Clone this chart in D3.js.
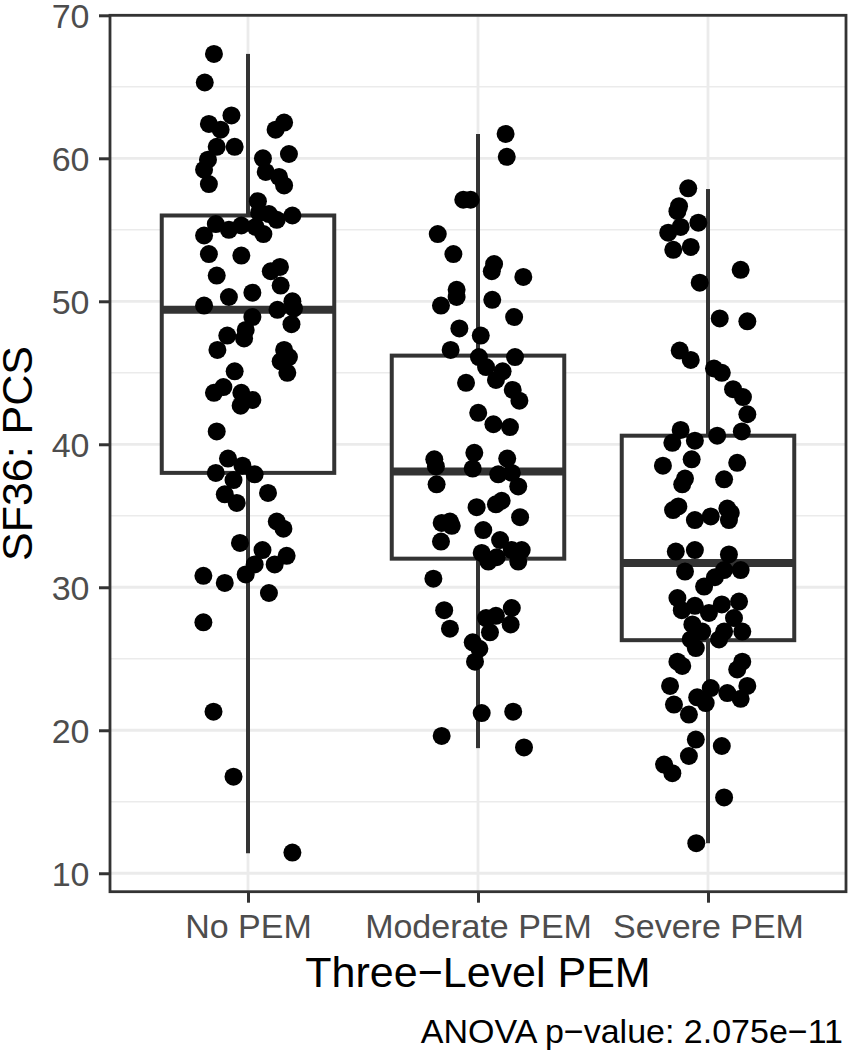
<!DOCTYPE html>
<html>
<head>
<meta charset="utf-8">
<script src="https://cdn.jsdelivr.net/npm/d3@7"></script>
<style>
  html, body { margin: 0; padding: 0; background: #ffffff; }
  svg { display: block; }
  text { font-family: "Liberation Sans", Arial, Helvetica, sans-serif; }
</style>
</head>
<body>
<svg id="chart" width="850" height="1050"></svg>
<script>
// ---------- data ----------
const categories = ["No PEM", "Moderate PEM", "Severe PEM"];

// box statistics
const boxLower   = [38.0, 32.0, 26.3];
const boxMedian  = [49.4, 38.1, 31.7];
const boxUpper   = [56.0, 46.2, 40.6];
const whiskerLow = [11.4, 18.75, 12.1];
const whiskerHigh= [67.3, 61.7, 57.85];

// jittered observations: values and horizontal jitter (fraction of category spacing)
const noPemValues = [67.3,65.3,63.0,62.4,62.0,60.8,60.8,59.9,59.2,58.2,62.5,62.0,60.3,60.0,59.05,58.7,58.1,57.0,56.2,56.1,
  55.7,56.0,54.7,55.4,54.6,55.0,55.3,55.2,53.3,53.2,51.8,52.1,52.4,51.1,50.6,50.3,49.7,49.4,50.0,49.5,
  48.4,48.9,48.0,47.6,47.4,46.6,46.6,46.1,45.8,45.0,45.1,43.6,44.0,43.6,43.1,42.7,40.9,39.0,38.0,38.5,
  37.5,37.9,36.5,35.9,36.6,34.6,34.1,33.1,32.6,32.2,31.6,31.6,30.9,30.8,30.3,29.6,27.55,21.3,16.75,11.45];
const noPemJitter = [-0.148,-0.188,-0.072,-0.170,-0.119,-0.136,-0.058,-0.174,-0.191,-0.170,0.157,0.120,0.178,0.065,0.077,0.135,0.157,0.043,0.048,0.091,
  0.125,0.193,0.067,-0.140,-0.191,-0.083,-0.029,0.033,-0.170,-0.029,-0.136,0.099,0.139,0.142,0.019,-0.083,-0.191,0.128,0.193,0.200,
  0.189,0.019,-0.010,-0.090,-0.017,-0.133,0.157,0.178,0.142,0.171,-0.058,-0.148,-0.107,-0.029,0.019,-0.032,-0.136,-0.087,-0.140,-0.024,
  -0.063,0.029,-0.101,-0.049,0.087,0.125,0.154,-0.035,0.063,0.168,0.116,0.029,-0.010,-0.194,-0.101,0.091,-0.194,-0.150,-0.063,0.193];

const moderateValues = [61.7,60.1,57.1,57.1,54.7,53.3,52.6,52.1,51.7,50.8,50.3,49.7,50.1,48.9,48.1,47.6,46.6,46.1,46.1,45.4,
  45.1,44.5,44.3,43.8,43.05,42.2,41.4,41.2,39.4,38.95,38.45,39.0,38.3,37.9,38.0,37.2,37.05,35.6,35.8,36.05,
  34.9,34.5,34.6,34.3,34.0,33.2,33.3,32.4,31.8,32.1,32.6,32.6,31.8,30.6,28.4,27.1,27.85,28.0,28.55,27.4,
  26.85,26.15,25.7,24.8,21.2,21.3,19.6,18.8];
const moderateJitter = [0.120,0.125,-0.064,-0.032,-0.175,-0.107,0.070,0.060,0.197,-0.093,-0.093,-0.161,0.062,0.157,-0.081,0.012,-0.119,0.004,0.161,0.035,
  0.107,0.078,-0.052,0.151,0.180,0.001,0.067,0.139,-0.016,-0.190,-0.183,0.127,-0.023,0.088,0.147,-0.180,0.175,-0.006,0.078,0.103,
  0.183,-0.158,-0.122,-0.114,0.023,-0.161,0.096,0.016,0.045,0.081,0.147,0.190,0.175,-0.194,-0.147,-0.122,0.035,0.078,0.147,0.142,
  0.052,-0.023,0.006,-0.013,0.016,0.153,-0.158,0.200];

const severeValues = [57.9,56.65,56.3,55.5,55.2,54.8,53.6,53.8,52.2,51.3,48.8,48.6,46.55,45.9,45.3,45.0,43.85,43.3,42.1,41.0,
  40.9,40.6,40.1,40.25,38.5,38.95,38.7,37.6,37.2,37.55,35.4,35.65,34.7,34.95,35.5,35.2,34.7,32.5,32.6,32.3,
  31.1,31.2,31.2,30.7,30.05,29.25,28.4,28.7,28.2,28.8,29.0,27.85,27.4,26.9,26.9,26.9,26.35,25.75,26.35,24.8,
  24.5,24.8,24.25,23.1,22.95,22.3,21.9,22.6,23.1,22.2,21.8,21.1,19.35,18.9,18.2,17.6,17.0,15.3,12.1];
const severeJitter = [-0.086,-0.126,-0.133,-0.042,-0.119,-0.173,-0.151,-0.075,0.142,-0.036,0.051,0.171,-0.123,-0.075,0.026,0.060,0.109,0.152,0.171,-0.119,
  0.147,0.040,-0.155,-0.057,-0.196,-0.071,0.127,-0.100,-0.112,0.070,-0.152,-0.129,-0.057,0.012,0.084,0.099,0.091,-0.140,-0.057,0.091,
  -0.100,0.142,0.070,0.030,-0.017,-0.133,-0.114,-0.057,0.004,0.060,0.135,0.113,-0.068,-0.025,0.070,0.149,-0.075,-0.053,0.048,-0.133,
  -0.112,0.149,0.127,-0.165,0.012,-0.047,-0.010,0.084,0.171,0.142,-0.148,-0.083,-0.053,0.060,-0.083,-0.191,-0.155,0.070,-0.051];

const yMajorTicks = [10, 20, 30, 40, 50, 60, 70];
const yMinorTicks = [15, 25, 35, 45, 55, 65];
const yDomain = [8.71, 70.0];

const xTitle = "Three\u2212Level PEM";
const yTitle = "SF36: PCS";
const caption = "ANOVA p\u2212value: 2.075e\u221211";

// ---------- layout ----------
const panel = { left: 110, right: 846, top: 15.3, bottom: 891.7 };
const svg = d3.select("#chart");

const x = d3.scalePoint().domain(categories).range([panel.left, panel.right]).padding(0.6);
const y = d3.scaleLinear().domain(yDomain).range([panel.bottom, panel.top]);
const step = x.step();
const boxW = 0.75 * step;

const gridColor = "#ebebeb";
const darkLine = "#333333";

// panel background
svg.append("rect")
  .attr("x", panel.left).attr("y", panel.top)
  .attr("width", panel.right - panel.left).attr("height", panel.bottom - panel.top)
  .attr("fill", "#ffffff");

// grid
const grid = svg.append("g");
grid.selectAll(".minor").data(yMinorTicks).join("line")
  .attr("x1", panel.left).attr("x2", panel.right)
  .attr("y1", d => y(d)).attr("y2", d => y(d))
  .attr("stroke", gridColor).attr("stroke-width", 1.4);
grid.selectAll(".majorY").data(yMajorTicks).join("line")
  .attr("x1", panel.left).attr("x2", panel.right)
  .attr("y1", d => y(d)).attr("y2", d => y(d))
  .attr("stroke", gridColor).attr("stroke-width", 2.8);
grid.selectAll(".majorX").data(categories).join("line")
  .attr("x1", d => x(d)).attr("x2", d => x(d))
  .attr("y1", panel.top).attr("y2", panel.bottom)
  .attr("stroke", gridColor).attr("stroke-width", 2.8);

// boxplots
const boxes = categories.map((c, i) => ({
  cat: c, lo: boxLower[i], med: boxMedian[i], hi: boxUpper[i], wlo: whiskerLow[i], whi: whiskerHigh[i]
}));
const bg = svg.append("g");
boxes.forEach(b => {
  const cx = x(b.cat);
  bg.append("line").attr("x1", cx).attr("x2", cx).attr("y1", y(b.hi)).attr("y2", y(b.whi))
    .attr("stroke", darkLine).attr("stroke-width", 4);
  bg.append("line").attr("x1", cx).attr("x2", cx).attr("y1", y(b.lo)).attr("y2", y(b.wlo))
    .attr("stroke", darkLine).attr("stroke-width", 4);
  bg.append("rect").attr("x", cx - boxW / 2).attr("y", y(b.hi))
    .attr("width", boxW).attr("height", y(b.lo) - y(b.hi))
    .attr("fill", "#ffffff").attr("stroke", darkLine).attr("stroke-width", 4);
  bg.append("line").attr("x1", cx - boxW / 2).attr("x2", cx + boxW / 2)
    .attr("y1", y(b.med)).attr("y2", y(b.med))
    .attr("stroke", darkLine).attr("stroke-width", 8);
});

// points
const groups = [
  { cat: categories[0], vals: noPemValues, jit: noPemJitter },
  { cat: categories[1], vals: moderateValues, jit: moderateJitter },
  { cat: categories[2], vals: severeValues, jit: severeJitter }
];
const pts = [];
groups.forEach(g => g.vals.forEach((v, i) => pts.push({ cat: g.cat, v: v, j: g.jit[i] })));
svg.append("g").selectAll("circle").data(pts).join("circle")
  .attr("cx", d => x(d.cat) + d.j * step)
  .attr("cy", d => y(d.v))
  .attr("r", 9)
  .attr("fill", "#000000");

// panel border
svg.append("rect")
  .attr("x", panel.left).attr("y", panel.top)
  .attr("width", panel.right - panel.left).attr("height", panel.bottom - panel.top)
  .attr("fill", "none").attr("stroke", darkLine).attr("stroke-width", 2.8);

// axes
const yAxis = d3.axisLeft(y).tickValues(yMajorTicks).tickSize(11).tickPadding(10);
const yg = svg.append("g").attr("transform", `translate(${panel.left},0)`).call(yAxis);
yg.select(".domain").remove();
yg.selectAll(".tick line").attr("stroke", darkLine).attr("stroke-width", 3);
yg.selectAll(".tick text").attr("fill", "#4d4d4d").attr("font-size", 34)
  .attr("font-family", "'Liberation Sans', Arial, sans-serif").attr("x", -20.5).attr("dy", "0.35em");

const xAxis = d3.axisBottom(x).tickSize(11).tickPadding(8);
const xg = svg.append("g").attr("transform", `translate(0,${panel.bottom})`).call(xAxis);
xg.select(".domain").remove();
xg.selectAll(".tick line").attr("stroke", darkLine).attr("stroke-width", 3);
xg.selectAll(".tick text").attr("fill", "#4d4d4d").attr("font-size", 34)
  .attr("font-family", "'Liberation Sans', Arial, sans-serif")
  .attr("y", 938.3 - panel.bottom).attr("dy", 0);

// titles
svg.append("text")
  .attr("x", (panel.left + panel.right) / 2).attr("y", 987)
  .attr("text-anchor", "middle").attr("font-size", 43).attr("fill", "#000000")
  .text(xTitle);
svg.append("text")
  .attr("transform", `translate(31.7,${(panel.top + panel.bottom) / 2}) rotate(-90)`)
  .attr("text-anchor", "middle").attr("font-size", 43).attr("fill", "#000000")
  .text(yTitle);
svg.append("text")
  .attr("x", 843).attr("y", 1043)
  .attr("text-anchor", "end").attr("font-size", 34).attr("fill", "#000000")
  .text(caption);
</script>
</body>
</html>
